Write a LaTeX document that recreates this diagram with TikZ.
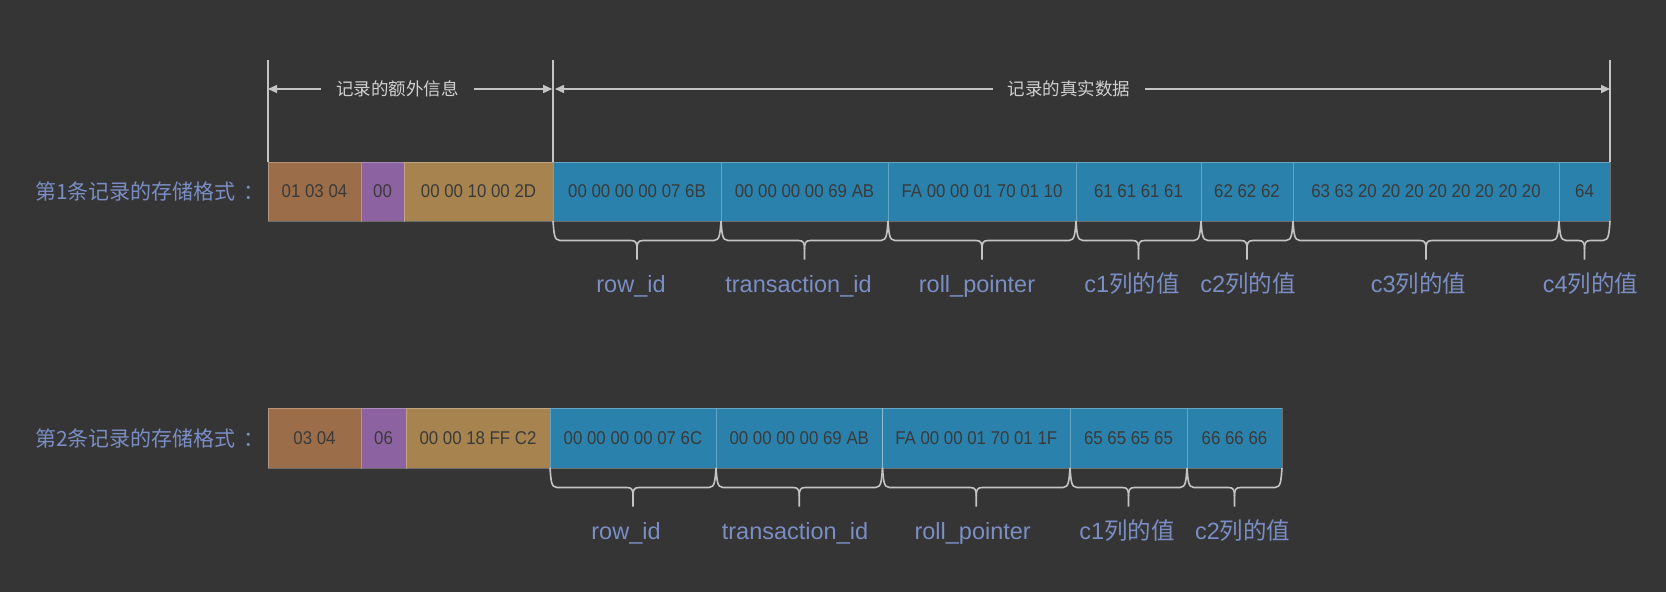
\documentclass[tikz,border=0pt]{standalone}
\usepackage{fontspec}
\setmainfont{Liberation Sans}
\newfontfamily\cjk{Noto Sans CJK SC}
\newfontfamily\boxfont[FakeStretch=0.91]{Liberation Sans}
\usetikzlibrary{arrows.meta,calc}
\definecolor{bg}{HTML}{353535}
\definecolor{cbrown}{HTML}{9B6D48}
\definecolor{cpurple}{HTML}{8C62A0}
\definecolor{ctan}{HTML}{A7844F}
\definecolor{cblue}{HTML}{2A81AB}
\definecolor{ctext}{HTML}{3A3A3A}
\definecolor{clabel}{HTML}{7B8EC4}
\definecolor{cline}{HTML}{C4C4C4}
\definecolor{cdim}{HTML}{D0D0D0}
\newcommand\curly[1]{%
  \draw[bracel] (#1.south west) .. controls ($(#1.south west)+(1,12)$) and ($(#1.south west)+(1,19.5)$) .. ($(#1.south west)+(7,19.5)$)
    -- ($(#1.south)+(-6,19.5)$) .. controls ($(#1.south)+(-1,19.5)$) and ($(#1.south)+(0,22)$) .. ($(#1.south)+(0,28)$)
    -- ($(#1.south)+(0,38.5)$);
  \draw[bracel] (#1.south east) .. controls ($(#1.south east)+(-1,12)$) and ($(#1.south east)+(-1,19.5)$) .. ($(#1.south east)+(-7,19.5)$)
    -- ($(#1.south)+(6,19.5)$) .. controls ($(#1.south)+(1,19.5)$) and ($(#1.south)+(0,22)$) .. ($(#1.south)+(0,28)$);
}
\begin{document}
\begin{tikzpicture}[x=1pt,y=-1pt,
  cell/.style={draw=white, draw opacity=0.28, line width=1pt, inner sep=0pt, outer sep=0pt,
    font=\boxfont\fontsize{18.5}{20}\selectfont, text=ctext},
  rowa/.style={cell, minimum height=59pt},
  rowb/.style={cell, minimum height=60pt},
  bracel/.style={draw=cline, line width=1.6pt},
  dimline/.style={draw=cline, line width=1.5pt},
  dimarrow/.style={dimline, -{Triangle[length=9pt,width=8pt]}},
  dimlab/.style={font=\cjk\fontsize{17.5}{20}\selectfont, text=cdim, inner xsep=15pt, inner ysep=0pt},
  lab/.style={font=\fontsize{23.5}{26}\selectfont, text=clabel, inner sep=0pt, anchor=base},
  leftlab/.style={font=\cjk\fontsize{21}{24}\selectfont, text=clabel, inner sep=0pt, anchor=west}
]
\fill[bg] (0,0) rectangle (1666,592);
\useasboundingbox (0,0) rectangle (1666,592);

% ---- record 1 ----
\node[leftlab] (r1) at (35,191.5) {第1条记录的存储格式\hspace{8pt}：};
\node[rowa, fill=cbrown,  minimum width=93pt]  (a1)  at (314.5,191.5) {01 03 04};
\node[rowa, fill=cpurple, minimum width=43pt]  (a2)  at (382.5,191.5) {00};
\node[rowa, fill=ctan,    minimum width=149pt] (a3)  at (478.5,191.5) {00 00 10 00 2D};
\node[rowa, fill=cblue,   minimum width=168pt] (a4)  at (637,191.5) {00 00 00 00 07 6B};
\node[rowa, fill=cblue,   minimum width=167pt] (a5)  at (804.5,191.5) {00 00 00 00 69 AB};
\node[rowa, fill=cblue,   minimum width=188pt] (a6)  at (982,191.5) {FA 00 00 01 70 01 10};
\node[rowa, fill=cblue,   minimum width=125pt] (a7)  at (1138.5,191.5) {61 61 61 61};
\node[rowa, fill=cblue,   minimum width=92pt]  (a8)  at (1247,191.5) {62 62 62};
\node[rowa, fill=cblue,   minimum width=266pt] (a9)  at (1426,191.5) {63 63 20 20 20 20 20 20 20 20};
\node[rowa, fill=cblue,   minimum width=51pt]  (a10) at (1584.5,191.5) {64};

% dimension lines
\coordinate (topy) at (0,60);
\draw[dimline] (a1.north west) -- (a1.north west |- topy);
\draw[dimline] (a4.north west) -- (a4.north west |- topy);
\draw[dimline] (a10.north east) -- (a10.north east |- topy);
\node[dimlab] (d1) at (397.5,89) {记录的额外信息};
\node[dimlab] (d2) at (1069,89) {记录的真实数据};
\draw[dimarrow] (d1.west) -- (d1.west -| a1.north west);
\draw[dimarrow] (d1.east) -- ([xshift=-0.8pt]d1.east -| a4.north west);
\draw[dimarrow] (d2.west) -- ([xshift=2pt]d2.west -| a4.north west);
\draw[dimarrow] (d2.east) -- (d2.east -| a10.north east);

% braces and labels
\curly{a4}\curly{a5}\curly{a6}\curly{a7}\curly{a8}\curly{a9}\curly{a10}
\node[lab] (la4)  at (631,292) {row\_id};
\node[lab] (la5)  at (798.5,292) {transaction\_id};
\node[lab] (la6)  at (977,292) {roll\_pointer};
\node[lab] (la7)  at (1132,292) {c1{\cjk 列的值}};
\node[lab] (la8)  at (1248,292) {c2{\cjk 列的值}};
\node[lab] (la9)  at (1418.5,292) {c3{\cjk 列的值}};
\node[lab] (la10) at (1590.5,292) {c4{\cjk 列的值}};

% ---- record 2 ----
\node[leftlab] (r2) at (35,438) {第2条记录的存储格式\hspace{8pt}：};
\node[rowb, fill=cbrown,  minimum width=93pt]  (b1) at (314.5,438) {03 04};
\node[rowb, fill=cpurple, minimum width=45pt]  (b2) at (383.5,438) {06};
\node[rowb, fill=ctan,    minimum width=144pt] (b3) at (478,438) {00 00 18 FF C2};
\node[rowb, fill=cblue,   minimum width=166pt] (b4) at (633,438) {00 00 00 00 07 6C};
\node[rowb, fill=cblue,   minimum width=166.5pt] (b5) at (799.25,438) {00 00 00 00 69 AB};
\node[rowb, fill=cblue,   minimum width=187.5pt] (b6) at (976.25,438) {FA 00 00 01 70 01 1F};
\node[rowb, fill=cblue,   minimum width=117pt] (b7) at (1128.5,438) {65 65 65 65};
\node[rowb, fill=cblue,   minimum width=95pt]  (b8) at (1234.5,438) {66 66 66};

\curly{b4}\curly{b5}\curly{b6}\curly{b7}\curly{b8}
\node[lab] (lb4) at (626,539.5) {row\_id};
\node[lab] (lb5) at (795,539.5) {transaction\_id};
\node[lab] (lb6) at (972.7,539.5) {roll\_pointer};
\node[lab] (lb7) at (1127,539.5) {c1{\cjk 列的值}};
\node[lab] (lb8) at (1242.8,539.5) {c2{\cjk 列的值}};
\end{tikzpicture}
\end{document}
